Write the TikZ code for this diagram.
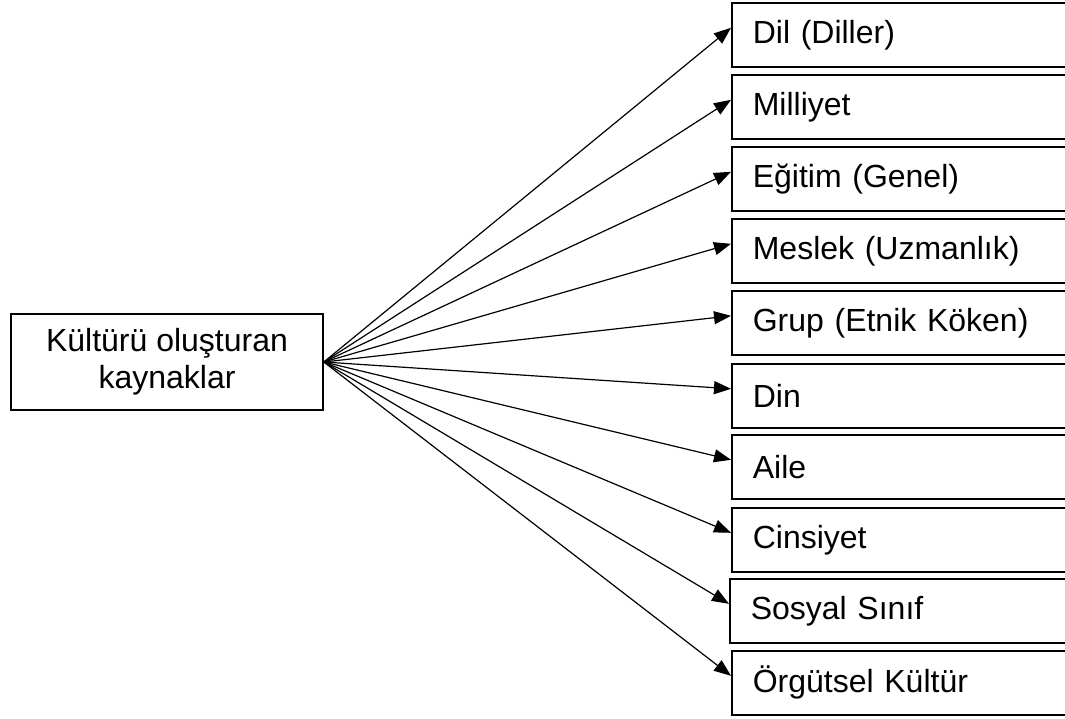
\documentclass[tikz,border=0pt]{standalone}
\usepackage{fontspec}
\setmainfont{Liberation Sans}
\usetikzlibrary{arrows.meta}

\tikzset{
  srcbox/.style={draw, line width=1.6pt, rectangle, minimum width=312pt, minimum height=96pt,
    align=center, inner sep=0pt, font=\fontsize{32}{37}\selectfont},
  itembox/.style={draw, line width=1.6pt, rectangle, anchor=north west, minimum height=64pt,
    text width=310pt, align=left, inner xsep=21pt, inner ysep=0pt,
    font=\fontsize{32}{37}\selectfont},
  link/.style={line width=1.2pt, -{Triangle[length=17pt,width=13pt]}, shorten >=0pt}
}

\begin{document}
\begin{tikzpicture}[x=1pt, y=-1pt]
  \useasboundingbox (0,0) rectangle (1065,718);
  \clip (0,0) rectangle (1065,718);

  % source box
  \node[srcbox] (src) at (167,362) {Kültürü oluşturan\\kaynaklar};

  % target boxes
  \node[itembox] (b1)  at (731,2)   {Dil (Diller)};
  \node[itembox] (b2)  at (731,74)  {Milliyet};
  \node[itembox] (b3)  at (731,146) {Eğitim (Genel)};
  \node[itembox] (b4)  at (731,218) {Meslek (Uzmanlık)};
  \node[itembox] (b5)  at (731,290) {Grup (Etnik Köken)};
  \node[itembox] (b6)  at (731,363) {Din};
  \node[itembox] (b7)  at (731,434) {Aile};
  \node[itembox] (b8)  at (731,507) {Cinsiyet};
  \node[itembox] (b9)  at (729,578) {Sosyal Sınıf};
  \node[itembox] (b10) at (731,650) {Örgütsel Kültür};

  % connectors
  \foreach \b in {b1,b2,b3,b4,b5,b6,b7,b8,b9,b10}
    \draw[link] (src.east) -- ([yshift=7pt]\b.west);
\end{tikzpicture}
\end{document}
